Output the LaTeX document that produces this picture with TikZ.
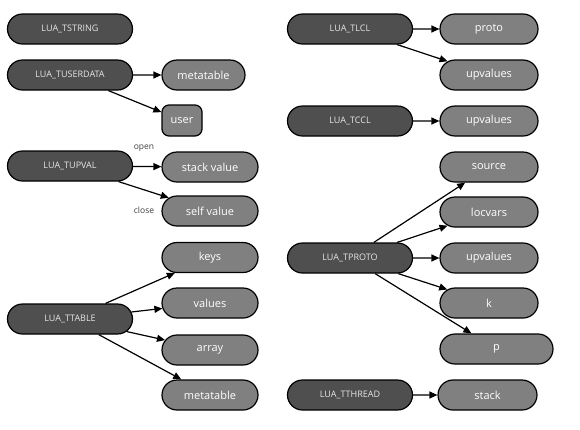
\documentclass[tikz,border=0pt]{standalone}
\usepackage{fontspec}
\setmainfont{Open Sans}
\usetikzlibrary{shapes.misc,arrows.meta}
\definecolor{darkfill}{HTML}{4F4F4F}
\definecolor{lightfill}{HTML}{808080}
\definecolor{darktext}{HTML}{E6E6E6}
\definecolor{labtext}{HTML}{404040}
\begin{document}
\begin{tikzpicture}[x=1pt,y=-1pt,
  dark/.style={rounded rectangle, draw=black, line width=1.2pt, fill=darkfill, text=darktext,
    font=\fontsize{9}{10}\selectfont, minimum width=125pt, minimum height=30pt, inner sep=0pt},
  light/.style={rounded rectangle, draw=black, line width=1.2pt, fill=lightfill, text=white,
    font=\fontsize{11}{13}\selectfont, minimum width=96pt, minimum height=30pt, inner sep=0pt},
  lab/.style={text=labtext, font=\fontsize{8.5}{9}\selectfont, inner sep=0pt},
  arr/.style={-{Triangle[length=8pt,width=7pt]}, line width=1.2pt}]
\useasboundingbox (0,0) rectangle (580,429);
% left dark nodes
\node[dark] (tstring) at (70,29) {LUA\_TSTRING};
\node[dark] (tuserdata) at (70,75) {LUA\_TUSERDATA};
\node[dark] (tupval) at (70,166) {LUA\_TUPVAL};
\node[dark] (ttable) at (70,319) {LUA\_TTABLE};
% right dark nodes
\node[dark] (tlcl) at (350,29) {LUA\_TLCL};
\node[dark] (tccl) at (350,121) {LUA\_TCCL};
\node[dark] (tproto) at (350,258) {LUA\_TPROTO};
\node[dark] (tthread) at (350,395) {LUA\_TTHREAD};
% left light nodes
\node[light, minimum width=83pt] (udmeta) at (203.5,75) {metatable};
\node[draw=black, line width=1.2pt, fill=lightfill, text=white, font=\fontsize{11}{13}\selectfont,
  rounded corners=7pt, minimum width=40pt, minimum height=31pt, inner sep=0pt] (user) at (182,120.5) {user};
\node[light] (stackv) at (210,167) {stack value};
\node[light] (selfv) at (210,211) {self value};
\node[light] (keys) at (210,257.5) {keys};
\node[light] (values) at (210,303) {values};
\node[light] (array) at (210,350) {array};
\node[light] (tmeta) at (210,395) {metatable};
% right light nodes
\node[light, minimum width=98pt] (proto) at (489,29) {proto};
\node[light, minimum width=98pt] (lupv) at (489,75) {upvalues};
\node[light, minimum width=98pt] (cupv) at (489,121) {upvalues};
\node[light, minimum width=98pt] (source) at (489,167) {source};
\node[light, minimum width=98pt] (locvars) at (489,212) {locvars};
\node[light, minimum width=98pt] (pupv) at (489,258) {upvalues};
\node[light, minimum width=98pt] (k) at (489,303) {k};
\node[light, minimum width=113pt] (p) at (496.5,349) {p};
\node[light, minimum width=99pt] (stack) at (487.5,395) {stack};
% labels
\node[lab] (openlbl) at (144,148) {open};
\node[lab] (closelbl) at (144,210) {close};
% connectors
\draw[arr] (tuserdata) -- (udmeta);
\draw[arr] (tuserdata) -- (user);
\draw[arr] (tupval) -- (stackv);
\draw[arr] (tupval) -- (selfv);
\draw[arr] (ttable) -- (keys);
\draw[arr] (ttable) -- (values);
\draw[arr] (ttable) -- (array);
\draw[arr] (ttable) -- (tmeta);
\draw[arr] (tlcl) -- (proto);
\draw[arr] (tlcl) -- (lupv);
\draw[arr] (tccl) -- (cupv);
\draw[arr] (tproto) -- (source);
\draw[arr] (tproto) -- (locvars);
\draw[arr] (tproto) -- (pupv);
\draw[arr] (tproto) -- (k);
\draw[arr] (tproto) -- (p);
\draw[arr] (tthread) -- (stack);
\end{tikzpicture}
\end{document}
